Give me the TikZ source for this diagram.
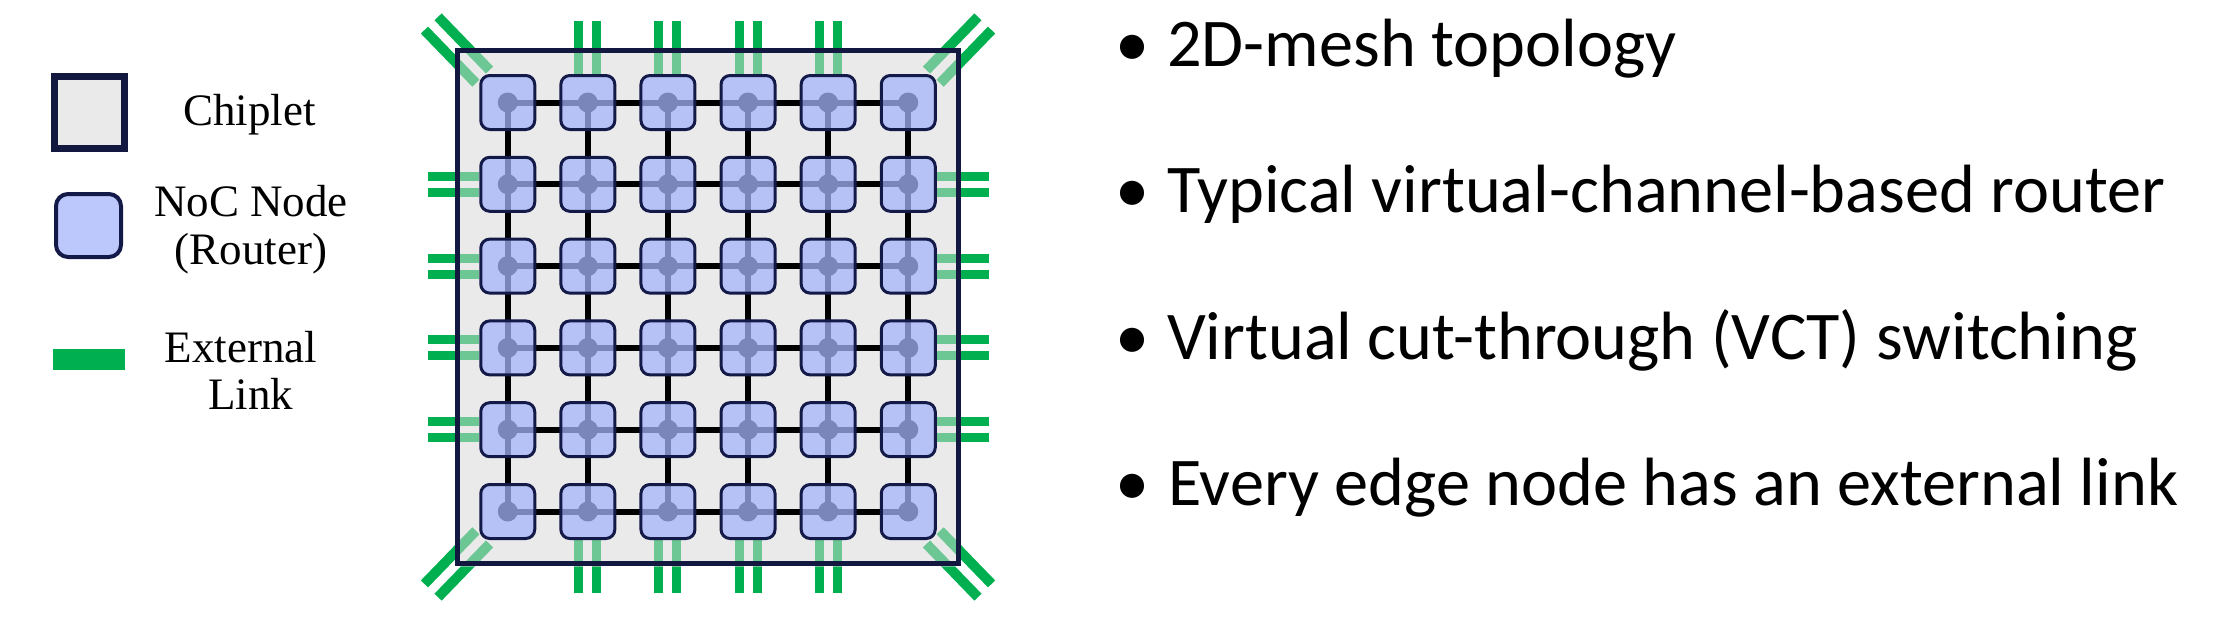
\documentclass[tikz,border=0pt]{standalone}
\usepackage{fontspec}
\setmainfont{Liberation Serif}
\newfontfamily\carlito{Carlito}
\usetikzlibrary{calc}
\definecolor{chipborder}{RGB}{19,24,64}
\definecolor{chipfill}{RGB}{234,234,234}
\definecolor{nocfill}{RGB}{165,180,251}
\definecolor{nocborder}{RGB}{20,26,72}
\definecolor{linkgreen}{RGB}{0,176,80}
\definecolor{linklight}{RGB}{108,199,148}
\pgfdeclarelayer{solidlinks}
\pgfdeclarelayer{chipbg}
\pgfdeclarelayer{lightlinks}
\pgfdeclarelayer{meshlayer}
\pgfdeclarelayer{chipframe}
\pgfsetlayers{solidlinks,chipbg,lightlinks,meshlayer,main,chipframe}
\tikzset{
  noc/.style={rectangle, rounded corners=9pt, draw=nocborder, line width=3pt,
    fill=nocfill, fill opacity=0.74, minimum width=54pt, minimum height=54pt, inner sep=0pt},
  chipbox/.style={rectangle, draw=chipborder, line width=5pt,
    minimum width=501pt, minimum height=513pt, inner sep=0pt},
  meshline/.style={line width=6pt, black},
  extsolid/.style={line width=9pt, linkgreen, line cap=butt},
  extlight/.style={line width=9pt, linklight, line cap=butt},
  diagsolid/.style={line width=10pt, linkgreen, line cap=butt},
  diaglight/.style={line width=10pt, linklight, line cap=butt},
  legtext/.style={font=\fontsize{45}{48}\selectfont, anchor=base, inner sep=0pt},
  bullettext/.style={font=\carlito\fontsize{68.3}{80}\selectfont, anchor=base west, inner sep=0pt},
  bulletmark/.style={font=\carlito\fontsize{68.3}{80}\selectfont, anchor=base, inner sep=0pt},
}
\newcommand{\mydiaglink}[3]{%
  \coordinate (P) at ($(#1.center)!36pt!(#2)$);
  \coordinate (Q) at ($(#1.center)!110pt!(#2)$);
  \draw[#3] ($(P)!9.5pt!90:(Q)$) -- ($(Q)!9.5pt!-90:(P)$);
  \draw[#3] ($(P)!9.5pt!-90:(Q)$) -- ($(Q)!9.5pt!90:(P)$);
}
\newcommand{\mydrawlinks}[2]{%
  \foreach \c in {2,...,5}{
    \draw[#1] ($(n-1-\c.north)+(-9,0)$) -- ++(0,-53);
    \draw[#1] ($(n-1-\c.north)+(9,0)$) -- ++(0,-53);
    \draw[#1] ($(n-6-\c.south)+(-9,0)$) -- ++(0,53);
    \draw[#1] ($(n-6-\c.south)+(9,0)$) -- ++(0,53);
    \draw[#1] ($(n-\c-1.west)+(0,-8)$) -- ++(-51,0);
    \draw[#1] ($(n-\c-1.west)+(0,8)$) -- ++(-51,0);
    \draw[#1] ($(n-\c-6.east)+(0,-8)$) -- ++(52,0);
    \draw[#1] ($(n-\c-6.east)+(0,8)$) -- ++(52,0);
  }
  \mydiaglink{n-1-1}{chip.north west}{#2}
  \mydiaglink{n-1-6}{chip.north east}{#2}
  \mydiaglink{n-6-1}{chip.south west}{#2}
  \mydiaglink{n-6-6}{chip.south east}{#2}
}
\begin{document}
\begin{tikzpicture}[x=1pt,y=-1pt]
\useasboundingbox (0,0) rectangle (2223,619);

% chip frame
\begin{pgfonlayer}{chipframe}
  \node[chipbox] (chip) at (708,307) {};
\end{pgfonlayer}
\begin{pgfonlayer}{chipbg}
  \fill[chipfill] (chip.north west) rectangle (chip.south east);
\end{pgfonlayer}

% NoC nodes
\foreach \r in {1,...,6}{
  \foreach \c in {1,...,6}{
    \node[noc] (n-\r-\c) at ({708+(\c-3.5)*80.1},{307+(\r-3.5)*81.8}) {};
  }
}

% mesh connections
\begin{pgfonlayer}{meshlayer}
  \foreach \r in {1,...,6}{
    \foreach \c [evaluate=\c as \cn using int(\c+1)] in {1,...,5}{
      \draw[meshline] (n-\r-\c.center) -- (n-\r-\cn.center);
      \draw[meshline] (n-\c-\r.center) -- (n-\cn-\r.center);
    }
  }
  \foreach \r in {1,...,6}{
    \foreach \c in {1,...,6}{
      \fill[black] (n-\r-\c.center) circle (10pt);
    }
  }
\end{pgfonlayer}

% external links
\begin{pgfonlayer}{solidlinks}
  \mydrawlinks{extsolid}{diagsolid}
\end{pgfonlayer}
\begin{pgfonlayer}{lightlinks}
  \begin{scope}
    \clip (chip.north west) rectangle (chip.south east);
    \mydrawlinks{extlight}{diaglight}
  \end{scope}
\end{pgfonlayer}

% legend
\node[rectangle, draw=chipborder, fill=chipfill, line width=7pt,
  minimum width=70pt, minimum height=72pt, inner sep=0pt] (legchip) at (89.5,112.5) {};
\node[noc, minimum width=65pt, minimum height=63pt, line width=4pt, rounded corners=12pt]
  (legnoc) at (88.5,225.5) {};
\node[fill=linkgreen, minimum width=72pt, minimum height=21pt, inner sep=0pt]
  (leglink) at (89,359.5) {};
\node[legtext] (legchiptext) at (249.5,125) {Chiplet};
\node[legtext] (legnoctext1) at (251,216) {NoC Node};
\node[legtext] (legnoctext2) at (251,264) {(Router)};
\node[legtext] (leglinktext1) at (241,362) {External};
\node[legtext] (leglinktext2) at (250.5,409) {Link};

% bullet list
\node[bulletmark] (b1) at (1132,66) {•};
\node[bullettext] (t1) at (1167,66) {2D-mesh topology};
\node[bulletmark] (b2) at (1132,212) {•};
\node[bullettext] (t2) at (1167,212) {Typical virtual-channel-based router};
\node[bulletmark] (b3) at (1132,359) {•};
\node[bullettext] (t3) at (1167,359) {Virtual cut-through (VCT) switching};
\node[bulletmark] (b4) at (1132,505) {•};
\node[bullettext] (t4) at (1168,505) {Every edge node has an external link};
\end{tikzpicture}
\end{document}
